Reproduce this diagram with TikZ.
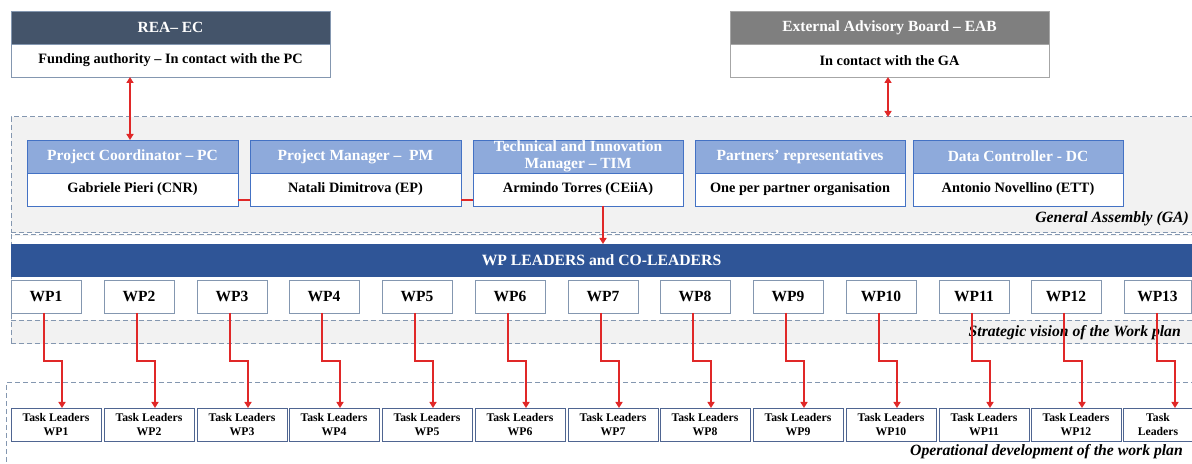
\documentclass[tikz,border=0pt]{standalone}
\usepackage{fontspec}
\setmainfont{Liberation Serif}
\usetikzlibrary{arrows.meta,calc}
\definecolor{reahd}{HTML}{44546A}
\definecolor{reaLn}{HTML}{8497B0}
\definecolor{eabhd}{HTML}{7F7F7F}
\definecolor{eabLn}{HTML}{A6A6A6}
\definecolor{rolehd}{HTML}{8EAADB}
\definecolor{roleln}{HTML}{4472C4}
\definecolor{barblue}{HTML}{2F5597}
\definecolor{dashc}{HTML}{8497B0}
\definecolor{gafill}{HTML}{F2F2F2}
\definecolor{arrc}{HTML}{E02828}
\definecolor{wpln}{HTML}{8497B0}
\definecolor{tlln}{HTML}{4F6591}
\tikzset{
  basebox/.style={anchor=north west, inner sep=0pt, outer sep=0pt, align=center, line width=0.8bp},
  hdfont/.style={font=\fontsize{15.5bp}{17bp}\selectfont\bfseries, text=white},
  bdfont/.style={font=\fontsize{14.3bp}{16bp}\selectfont\bfseries, text=black},
  reahead/.style={basebox, hdfont, fill=reahd, draw=reaLn, minimum width=319bp, minimum height=33bp},
  reabody/.style={basebox, bdfont, fill=white, draw=reaLn, minimum width=319bp, minimum height=33bp},
  eabhead/.style={basebox, hdfont, fill=eabhd, draw=eabLn, minimum width=319bp, minimum height=33bp},
  eabbody/.style={basebox, bdfont, fill=white, draw=eabLn, minimum width=319bp, minimum height=33bp},
  rolehead/.style={basebox, hdfont, fill=rolehd, draw=roleln, minimum height=33bp},
  rolebody/.style={basebox, bdfont, fill=white, draw=roleln, minimum height=33bp},
  region/.style={basebox, draw=dashc, line width=1bp, dash pattern=on 5bp off 3bp},
  wpbox/.style={basebox, font=\fontsize{15.5bp}{17bp}\selectfont\bfseries, fill=white, draw=wpln, minimum width=70bp, minimum height=33bp},
  tlbox/.style={basebox, font=\fontsize{11.7bp}{14bp}\selectfont\bfseries, fill=white, draw=tlln, minimum width=90bp, minimum height=33bp},
  lbl/.style={font=\fontsize{15.7bp}{17bp}\selectfont\bfseries\itshape, anchor=east, inner sep=0pt},
  arrline/.style={draw=arrc, line width=1.5bp},
  tip/.style={-{Triangle[length=6bp,width=7bp]}},
  dtip/.style={{Triangle[length=6bp,width=7bp]}-{Triangle[length=6bp,width=7bp]}},
}
\begin{document}
\begin{tikzpicture}[x=1bp,y=-1bp]
\useasboundingbox (0,0) rectangle (1192,464);

% regions
\node[region, fill=gafill, minimum width=1190bp, minimum height=116bp] (ga) at (11,117) {};
\node[region, fill=gafill, minimum width=1190bp, minimum height=109bp] (sv) at (11,235) {};
\fill[white] (11.6,236) rectangle (1200,320.5);
\draw[dashc, line width=1bp, dash pattern=on 5bp off 3bp] (sv.west |- 0,321) -- (1200,321);
\coordinate (opc) at (6,383);
\draw[dashc, line width=1bp, dash pattern=on 5bp off 3bp] (6,470) -- (opc) -- (1200,383);

% top boxes
\node[reahead] (reah) at (11,11) {REA– EC};
\node[reabody] (reab) at (11,44) {Funding authority – In contact with the PC};
\node[eabhead] (eabh) at (730,11) {External Advisory Board – EAB};
\node[eabbody] (eabb) at (730,44) {In contact with the GA};

% role boxes
\node[rolehead, minimum width=211bp] (pch) at (27,140) {Project Coordinator – PC};
\node[rolebody, minimum width=211bp] (pcb) at (27,173) {Gabriele Pieri (CNR)};
\node[rolehead, minimum width=211bp] (pmh) at (250,140) {Project Manager – \ PM};
\node[rolebody, minimum width=211bp] (pmb) at (250,173) {Natali Dimitrova (EP)};
\node[rolehead, minimum width=210bp] (timh) at (473,140) {Technical and Innovation\\[-0.5bp]Manager – TIM};
\node[rolebody, minimum width=210bp] (timb) at (473,173) {Armindo Torres (CEiiA)};
\node[rolehead, minimum width=210bp] (pah) at (695,140) {Partners’ representatives};
\node[rolebody, minimum width=210bp] (pab) at (695,173) {One per partner organisation};
\node[rolehead, minimum width=210bp] (dch) at (913,140) {Data Controller - DC};
\node[rolebody, minimum width=210bp] (dcb) at (913,173) {Antonio Novellino (ETT)};

\node[lbl] (galbl) at (1189,219) {General Assembly (GA)};

% WP leaders bar
\node[basebox, fill=barblue, text=white, font=\fontsize{15.7bp}{17bp}\selectfont\bfseries, minimum width=1181bp, minimum height=33bp] (wpl) at (11,244) {WP LEADERS and CO-LEADERS};

\node[lbl] (svlbl) at (1181,333) {Strategic vision of the Work plan};
\node[lbl] (oplbl) at (1183,452) {Operational development of the work plan};

% connectors among top
\coordinate (reax) at (130,0);
\coordinate (eabx) at (888,0);
\coordinate (timx) at (603,0);
\coordinate (linky) at (0,200);
\draw[arrline, dtip] (reab.south -| reax) -- (pch.north -| reax);
\draw[arrline, dtip] (eabb.south -| eabx) -- (ga.north -| eabx);
\draw[arrline] (pcb.east |- linky) -- (pmb.west |- linky);
\draw[arrline] (pmb.east |- linky) -- (timb.west |- linky);
\draw[arrline, tip] (timb.south -| timx) -- (wpl.north -| timx);

% WP boxes and task leaders
\foreach \i in {1,...,12}{
  \pgfmathsetmacro\lx{round(11+92.75*(\i-1))}
  \node[wpbox] (wp\i) at (\lx,280) {WP\i};
  \node[tlbox] (tl\i) at (\lx,408) {Task Leaders\\WP\i};
  \draw[arrline, tip] ([xshift=-2bp]wp\i.south) -- ++(0,48) -| ([xshift=6bp]tl\i.north);
}
\node[wpbox, minimum width=67bp] (wp13) at (1124,280) {WP13};
\node[tlbox, minimum width=70bp] (tl13) at (1123,408) {Task\\Leaders};
\draw[arrline, tip] ([xshift=-0.5bp]wp13.south) -- ++(0,48) -| ([xshift=17bp]tl13.north);
\end{tikzpicture}
\end{document}
